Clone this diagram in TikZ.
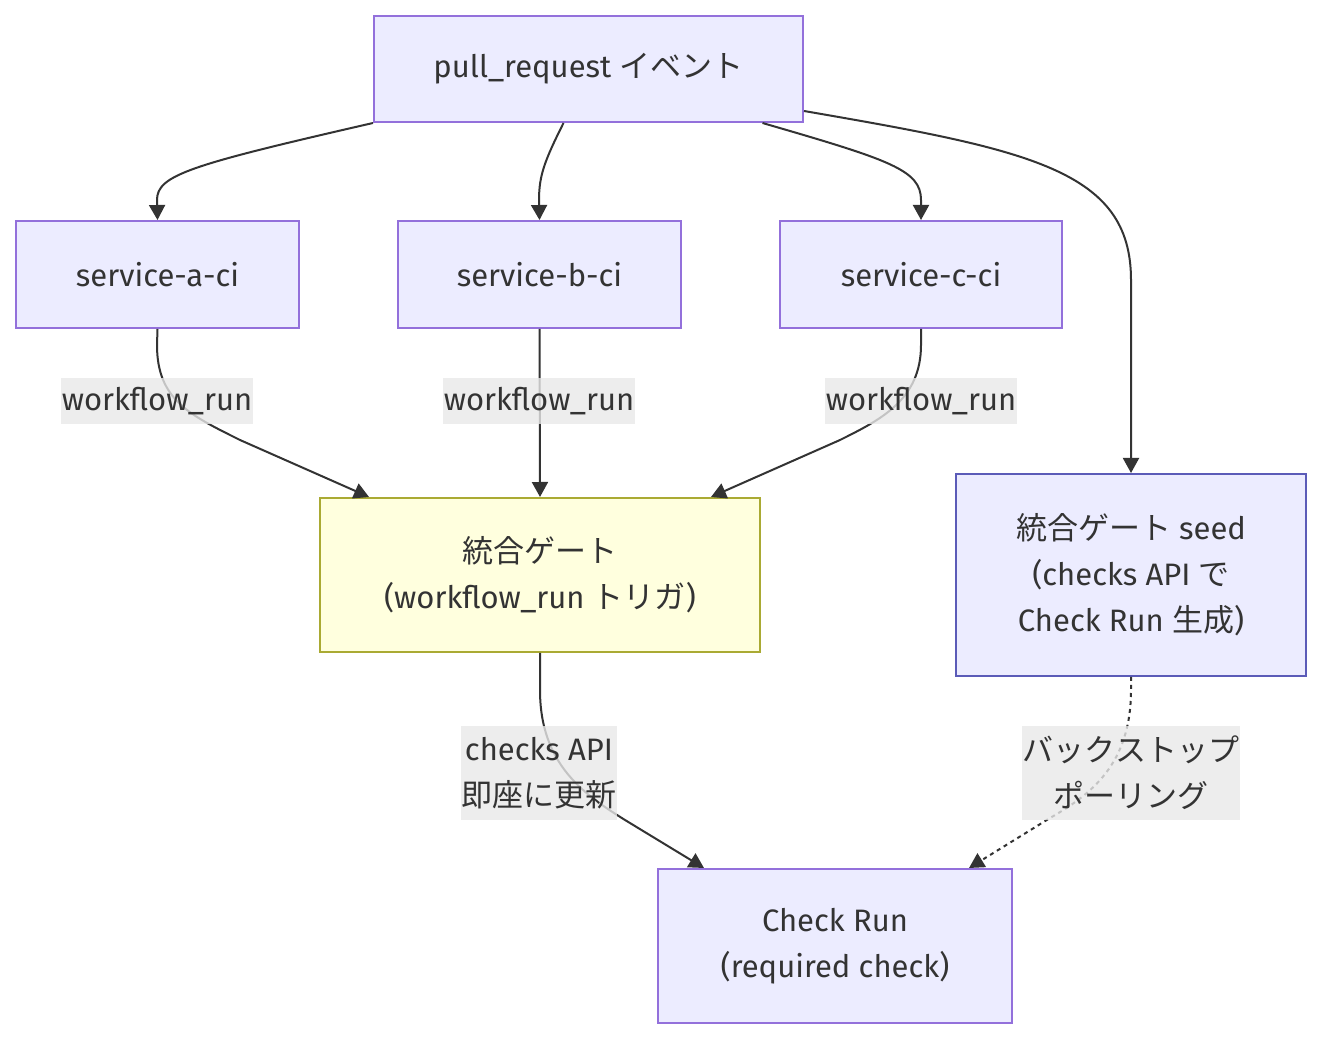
\documentclass[tikz,border=0pt]{standalone}
\usepackage{fontspec}
\setmainfont{Fira Sans}
\newfontfamily\jp{Noto Sans CJK JP}
\usetikzlibrary{arrows.meta,calc}
\definecolor{nodefill}{HTML}{ECECFF}
\definecolor{nodeline}{HTML}{9370DB}
\definecolor{seedline}{HTML}{5B5BB8}
\definecolor{gatefill}{HTML}{FFFFDE}
\definecolor{gateline}{HTML}{AAAA33}
\definecolor{edgecol}{HTML}{333333}
\definecolor{labelbg}{HTML}{E8E8E8}
\begin{document}
\begin{tikzpicture}[x=0.5pt,y=-0.5pt,
  every node/.style={text=edgecol,font=\fontsize{15.5}{23}\selectfont},
  box/.style={draw=nodeline,fill=nodefill,line width=1pt,align=center,inner sep=0pt},
  gatebox/.style={box,draw=gateline,fill=gatefill},
  seedbox/.style={box,draw=seedline},
  elabel/.style={fill=labelbg,fill opacity=0.8,text opacity=1,align=center,inner sep=0pt},
  edge/.style={draw=edgecol,line width=1pt,-{Triangle[length=7.5pt,width=8pt]}},
  dotedge/.style={edge,dash pattern=on 2pt off 2pt}]
\useasboundingbox (0,0) rectangle (1338,1052);
\node[box,minimum width=214.5pt,minimum height=53pt] (top) at (588.5,69) {pull\_request {\jp イベント}};
\node[box,minimum width=141.5pt,minimum height=53.5pt] (a) at (157.5,274.5) {service-a-ci};
\node[box,minimum width=141.5pt,minimum height=53.5pt] (b) at (539.5,274.5) {service-b-ci};
\node[box,minimum width=141pt,minimum height=53.5pt] (c) at (921,274.5) {service-c-ci};
\node[gatebox,minimum width=220pt,minimum height=77pt] (gate) at (540,575) {{\jp 統合ゲート}\\({workflow\_run} {\jp トリガ})};
\node[seedbox,minimum width=175pt,minimum height=101pt] (seed) at (1131,575) {{\jp 統合ゲート} seed\\(checks API {\jp で}\\Check Run {\jp 生成})};
\node[box,minimum width=177pt,minimum height=77pt] (chk) at (835,946) {Check Run\\(required check)};

\draw[edge] (top.south west) .. controls (190,165) and (157,175) .. (157,200) -- (a.north);
\draw[edge] ($(top.south)+(-25,0)$) .. controls (545,160) and (539,175) .. (539,200) -- (b.north);
\draw[edge] ($(top.south)+(174,0)$) .. controls (890,160) and (921,170) .. (921,200) -- (c.north);
\draw[edge] ($(top.south east)+(0,-12)$) .. controls (1030,150) and (1131,170) .. (1131,280) -- (seed.north);
\draw[edge] (a.south) -- (157,345) .. controls (157,400) and (190,415) .. (240,440) -- ($(gate.north west)+(50,0)$);
\draw[edge] (b.south) -- (gate.north);
\draw[edge] (c.south) -- (921,345) .. controls (921,400) and (880,420) .. (840,440) -- ($(gate.north east)+(-50,0)$);
\draw[edge] (gate.south) -- (540,690) .. controls (540,765) and (585,795) .. (625,820) -- ($(chk.north west)+(47,0)$);
\draw[dotedge] (seed.south) -- (1131,690) .. controls (1131,765) and (1090,795) .. (1050,818) -- ($(chk.north east)+(-44,0)$);

\node[elabel,minimum width=96pt,minimum height=23pt] (l1) at (157,401) {workflow\_run};
\node[elabel,minimum width=96pt,minimum height=23pt] (l2) at (539,401) {workflow\_run};
\node[elabel,minimum width=96pt,minimum height=23pt] (l3) at (921,401) {workflow\_run};
\node[elabel,minimum width=78pt,minimum height=47pt] (l4) at (539,773) {checks API\\{\jp 即座に更新}};
\node[elabel,minimum width=109pt,minimum height=47pt] (l5) at (1131,773) {{\jp バックストップ}\\{\jp ポーリング}};
\end{tikzpicture}
\end{document}
